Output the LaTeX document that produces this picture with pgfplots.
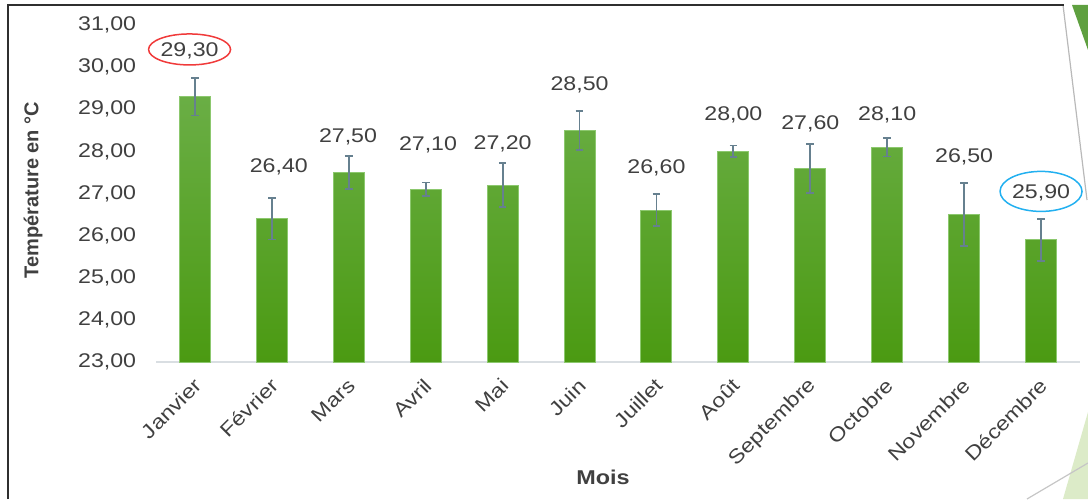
\documentclass[border=0pt]{standalone}
\usepackage{pgfplots}
\pgfplotsset{compat=1.18}
\usepackage{pgfplotstable}
\usepackage{fontspec}
\setmainfont{Liberation Sans}[FakeStretch=1.17]
\newfontfamily\plainsans{Liberation Sans}
\usetikzlibrary{shapes.geometric}
\definecolor{txt}{HTML}{404040}
\definecolor{barTop}{HTML}{6AAE45}
\definecolor{barBot}{HTML}{4B9A12}
\definecolor{barEdge}{HTML}{8CC86E}
\definecolor{errc}{HTML}{66808F}
\definecolor{axisc}{HTML}{D9DEE2}
\definecolor{frame}{HTML}{2F2F2F}
\definecolor{decogreen}{HTML}{5FA040}
\definecolor{lightgreen}{HTML}{DCEBC8}
\definecolor{ellred}{HTML}{F03A3A}
\definecolor{ellblue}{HTML}{22B0F0}

\pgfplotstableread{
x y err
0 29.3 0.45
1 26.4 0.49
2 27.5 0.39
3 27.1 0.16
4 27.2 0.52
5 28.5 0.46
6 26.6 0.38
7 28.0 0.14
8 27.6 0.58
9 28.1 0.22
10 26.5 0.74
11 25.9 0.50
}\bardata

\pgfplotstableread{
lx ly lab
1.09 27.66 26,40
1.99 28.38 27,50
3.03 28.19 27,10
4.00 28.20 27,20
5.00 29.60 28,50
6.00 27.64 26,60
7.00 28.89 28,00
8.00 28.69 27,60
9.00 28.89 28,10
10.00 27.90 26,50
}\labdata

\begin{document}
\begin{tikzpicture}
\begin{scope}[x=0.5pt,y=0.5pt]
\useasboundingbox (0,0) rectangle (1088,499);
\fill[decogreen] (1072,494) -- (1088,494) -- (1088,449) -- cycle;
\draw[gray!55, line width=0.6pt] (1063,494) -- (1087,299);
\fill[lightgreen] (1063,0) -- (1088,0) -- (1088,87) -- cycle;
\draw[gray!45, line width=0.6pt] (1027,0) -- (1088,36);
\draw[frame, line width=0.8pt] (8,0) -- (8,494) -- (1064,494);
\end{scope}
\begin{axis}[
  at={(78.25pt,68.5pt)}, anchor=south west,
  scale only axis, width=461.5pt, height=168.5pt,
  xmin=-0.5, xmax=11.5, ymin=23, ymax=31,
  clip=false,
  axis x line*=bottom, axis y line*=left,
  y axis line style={draw=none},
  x axis line style={draw=axisc, line width=0.75pt},
  major tick length=0pt, tick style={draw=none},
  xtick={0,...,11},
  xticklabels={Janvier,Février,Mars,Avril,Mai,Juin,Juillet,Août,Septembre,Octobre,Novembre,Décembre},
  ytick={23,...,31},
  /pgf/number format/assume math mode=true,
  yticklabel={\pgfmathprintnumber[fixed,fixed zerofill,precision=2,use comma]{\tick}},
  yticklabel style={font=\fontsize{9.9}{11}\selectfont, text=txt, anchor=east, inner sep=0pt, xshift=-10pt},
  xticklabel style={font=\fontsize{9.9}{11}\selectfont, text=txt, inner sep=0pt, yshift=-10pt, xshift=1.5pt, rotate=45, anchor=east},
  xlabel={Mois},
  ylabel={Température en °C},
  xlabel style={at={(axis description cs:0.4837,-0.341)}, anchor=center, font=\bfseries\fontsize{10}{12}\selectfont, text=txt},
  ylabel style={at={(axis description cs:-0.1338,0.510)}, anchor=center, rotate=0, font=\plainsans\bfseries\fontsize{10}{12}\selectfont, text=txt},
]
\addplot[ybar, bar width=15.5pt, draw=barEdge, line width=0.5pt,
  top color=barTop, bottom color=barBot,
  error bars/.cd, y dir=both, y explicit,
  error mark=|,
  error bar style={color=errc, line width=0.9pt},
  error mark options={color=errc, mark size=1.9pt, line width=0.9pt}]
  table[x=x, y=y, y error=err] {\bardata};
\addplot[only marks, mark=none, nodes near coords, point meta=explicit symbolic,
  nodes near coords style={anchor=center, font=\fontsize{9.9}{11}\selectfont, text=txt, inner sep=0pt, text depth=0pt}]
  table[x=lx, y=ly, meta=lab] {\labdata};
\addplot[only marks, mark=none, nodes near coords, point meta=explicit symbolic,
  nodes near coords style={anchor=center, font=\fontsize{9.9}{11}\selectfont, text=txt, inner sep=0pt, text depth=0pt, ellipse, draw=ellred, line width=0.75pt, minimum width=41pt, minimum height=15.5pt}]
  coordinates {(-0.07,30.42) [29,30]};
\addplot[only marks, mark=none, nodes near coords, point meta=explicit symbolic,
  nodes near coords style={anchor=center, font=\fontsize{9.9}{11}\selectfont, text=txt, inner sep=0pt, text depth=0pt, ellipse, draw=ellblue, line width=0.75pt, minimum width=40.5pt, minimum height=20pt}]
  coordinates {(11,27.05) [25,90]};
\end{axis}
\end{tikzpicture}
\end{document}
